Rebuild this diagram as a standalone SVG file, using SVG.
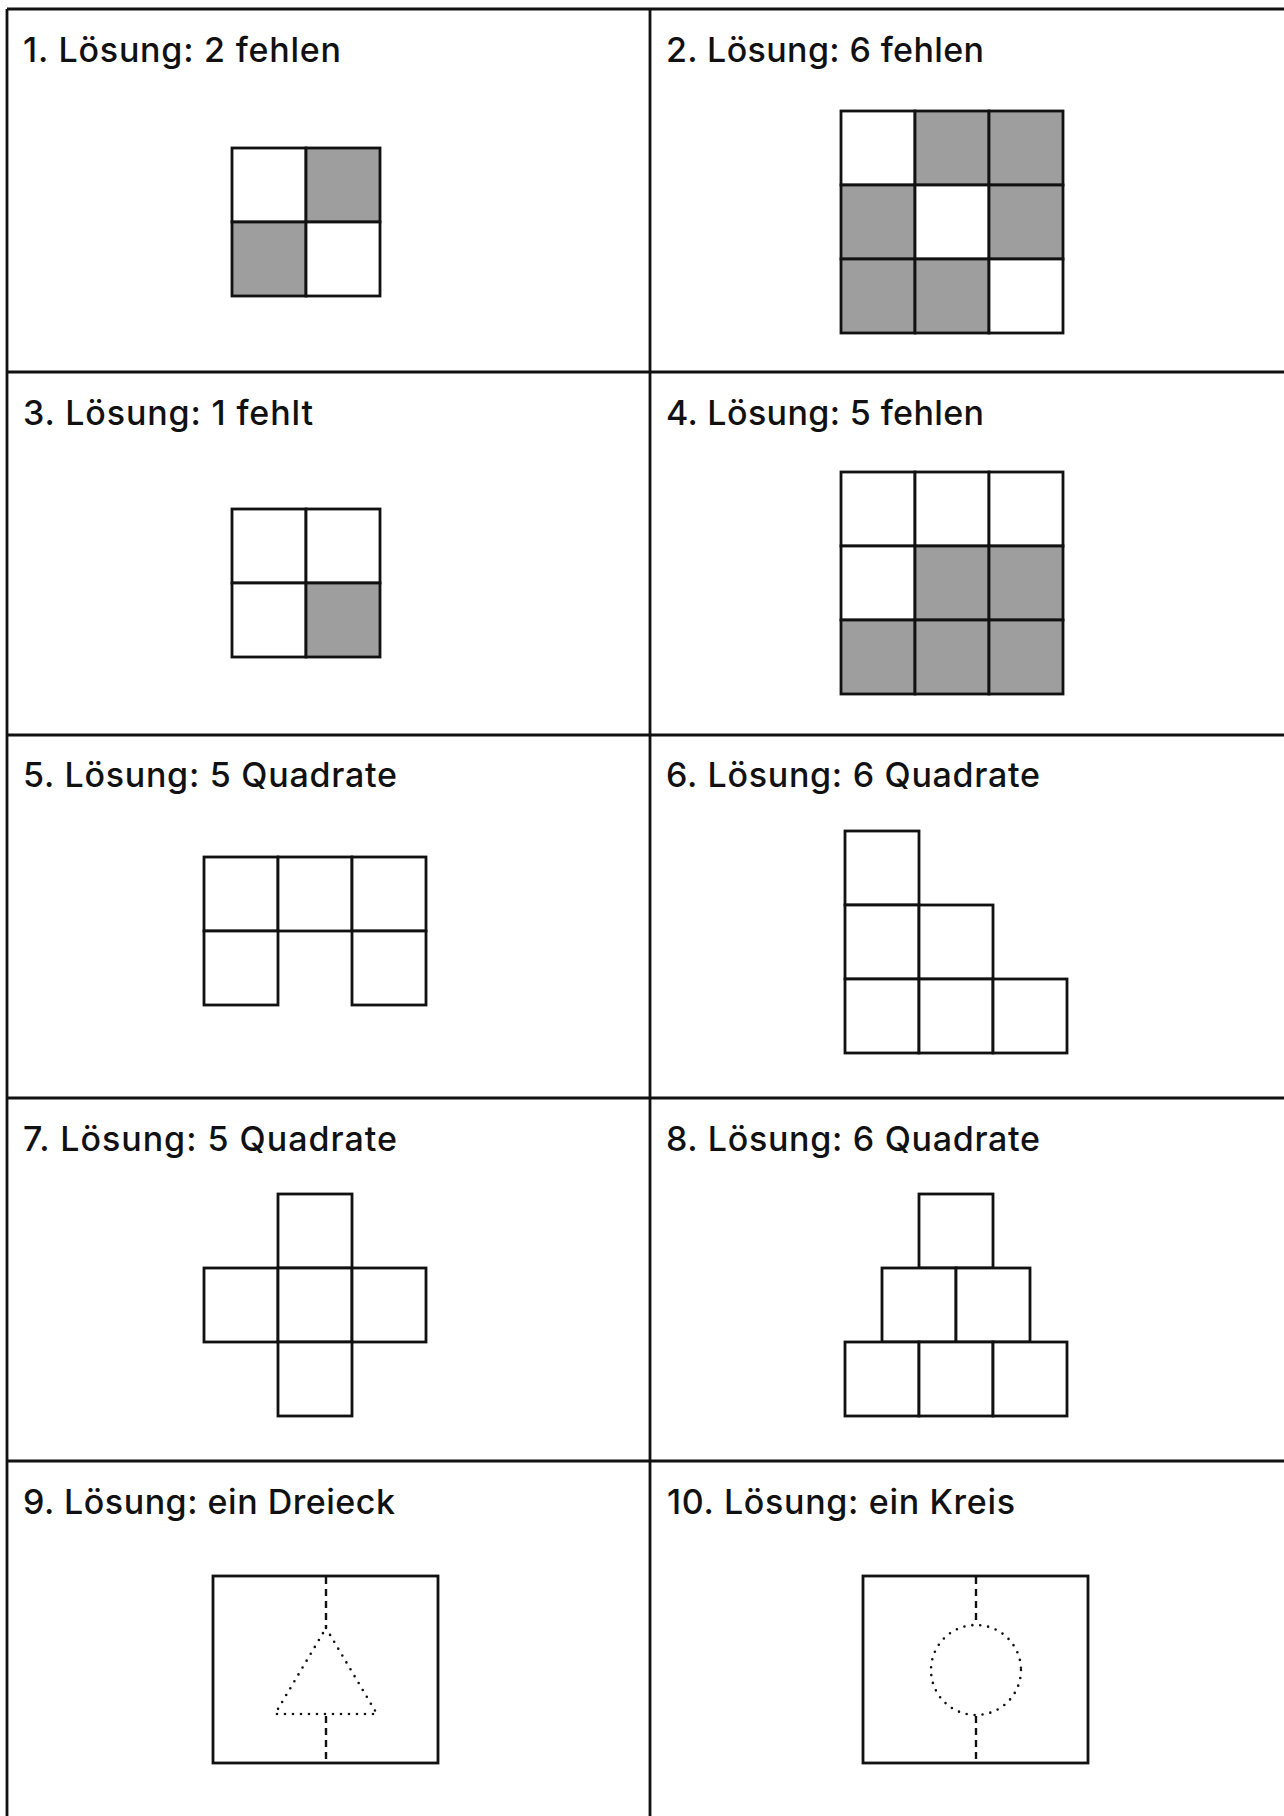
<svg xmlns="http://www.w3.org/2000/svg" width="1284" height="1816" viewBox="0 0 1284 1816">
<style>
  .bg { fill: #ffffff; }
  .rule { stroke: #111111; stroke-width: 2.8; fill: none; }
  .lbl { font-family: Inter, "Liberation Sans", sans-serif; font-weight: 500; font-size: 34px; fill: #111111; }
  .w { fill: #ffffff; stroke: #111111; stroke-width: 2.8; }
  .g { fill: #9e9e9e; stroke: #111111; stroke-width: 2.8; }
  .frame { fill: #ffffff; stroke: #111111; stroke-width: 2.8; }
  .dash { stroke: #111111; stroke-width: 2.4; fill: none; stroke-dasharray: 7 5; }
  .dot { stroke: #111111; stroke-width: 2.6; fill: none; stroke-dasharray: 0 8; stroke-linecap: round; }
</style>
<rect class="bg" x="0" y="0" width="1284" height="1816"/>
<g id="grid">
  <line class="rule" x1="7" y1="9" x2="1290" y2="9"/>
  <line class="rule" x1="7" y1="372" x2="1290" y2="372"/>
  <line class="rule" x1="7" y1="735" x2="1290" y2="735"/>
  <line class="rule" x1="7" y1="1098" x2="1290" y2="1098"/>
  <line class="rule" x1="7" y1="1461" x2="1290" y2="1461"/>
  <line class="rule" x1="7" y1="9" x2="7" y2="1820"/>
  <line class="rule" x1="650" y1="9" x2="650" y2="1820"/>
</g>
<g id="connectors"/>
<g id="panel1">
  <text class="lbl" x="23" y="62" textLength="318">1. Lösung: 2 fehlen</text>
  <rect class="w" x="232" y="148" width="74" height="74"/>
  <rect class="g" x="306" y="148" width="74" height="74"/>
  <rect class="g" x="232" y="222" width="74" height="74"/>
  <rect class="w" x="306" y="222" width="74" height="74"/>
</g>
<g id="panel2">
  <text class="lbl" x="666" y="62" textLength="318">2. Lösung: 6 fehlen</text>
  <rect class="w" x="841" y="111" width="74" height="74"/>
  <rect class="g" x="915" y="111" width="74" height="74"/>
  <rect class="g" x="989" y="111" width="74" height="74"/>
  <rect class="g" x="841" y="185" width="74" height="74"/>
  <rect class="w" x="915" y="185" width="74" height="74"/>
  <rect class="g" x="989" y="185" width="74" height="74"/>
  <rect class="g" x="841" y="259" width="74" height="74"/>
  <rect class="g" x="915" y="259" width="74" height="74"/>
  <rect class="w" x="989" y="259" width="74" height="74"/>
</g>
<g id="panel3">
  <text class="lbl" x="23" y="425" textLength="290">3. Lösung: 1 fehlt</text>
  <rect class="w" x="232" y="509" width="74" height="74"/>
  <rect class="w" x="306" y="509" width="74" height="74"/>
  <rect class="w" x="232" y="583" width="74" height="74"/>
  <rect class="g" x="306" y="583" width="74" height="74"/>
</g>
<g id="panel4">
  <text class="lbl" x="666" y="425" textLength="318">4. Lösung: 5 fehlen</text>
  <rect class="w" x="841" y="472" width="74" height="74"/>
  <rect class="w" x="915" y="472" width="74" height="74"/>
  <rect class="w" x="989" y="472" width="74" height="74"/>
  <rect class="w" x="841" y="546" width="74" height="74"/>
  <rect class="g" x="915" y="546" width="74" height="74"/>
  <rect class="g" x="989" y="546" width="74" height="74"/>
  <rect class="g" x="841" y="620" width="74" height="74"/>
  <rect class="g" x="915" y="620" width="74" height="74"/>
  <rect class="g" x="989" y="620" width="74" height="74"/>
</g>
<g id="panel5">
  <text class="lbl" x="23" y="787" textLength="374">5. Lösung: 5 Quadrate</text>
  <rect class="w" x="204" y="857" width="74" height="74"/>
  <rect class="w" x="278" y="857" width="74" height="74"/>
  <rect class="w" x="352" y="857" width="74" height="74"/>
  <rect class="w" x="204" y="931" width="74" height="74"/>
  <rect class="w" x="352" y="931" width="74" height="74"/>
</g>
<g id="panel6">
  <text class="lbl" x="666" y="787" textLength="374">6. Lösung: 6 Quadrate</text>
  <rect class="w" x="845" y="831" width="74" height="74"/>
  <rect class="w" x="845" y="905" width="74" height="74"/>
  <rect class="w" x="919" y="905" width="74" height="74"/>
  <rect class="w" x="845" y="979" width="74" height="74"/>
  <rect class="w" x="919" y="979" width="74" height="74"/>
  <rect class="w" x="993" y="979" width="74" height="74"/>
</g>
<g id="panel7">
  <text class="lbl" x="23" y="1151" textLength="374">7. Lösung: 5 Quadrate</text>
  <rect class="w" x="278" y="1194" width="74" height="74"/>
  <rect class="w" x="204" y="1268" width="74" height="74"/>
  <rect class="w" x="278" y="1268" width="74" height="74"/>
  <rect class="w" x="352" y="1268" width="74" height="74"/>
  <rect class="w" x="278" y="1342" width="74" height="74"/>
</g>
<g id="panel8">
  <text class="lbl" x="666" y="1151" textLength="374">8. Lösung: 6 Quadrate</text>
  <rect class="w" x="919" y="1194" width="74" height="74"/>
  <rect class="w" x="882" y="1268" width="74" height="74"/>
  <rect class="w" x="956" y="1268" width="74" height="74"/>
  <rect class="w" x="845" y="1342" width="74" height="74"/>
  <rect class="w" x="919" y="1342" width="74" height="74"/>
  <rect class="w" x="993" y="1342" width="74" height="74"/>
</g>
<g id="panel9">
  <text class="lbl" x="23" y="1514" textLength="372">9. Lösung: ein Dreieck</text>
  <rect class="frame" x="213" y="1576" width="225" height="187"/>
  <line class="dash" x1="326" y1="1577" x2="326" y2="1628"/>
  <line class="dash" x1="326" y1="1716" x2="326" y2="1762"/>
  <path class="dot" d="M326 1628 L377 1714 L275 1714 Z"/>
</g>
<g id="panel10">
  <text class="lbl" x="667" y="1514" textLength="348">10. Lösung: ein Kreis</text>
  <rect class="frame" x="863" y="1576" width="225" height="187"/>
  <line class="dash" x1="976" y1="1577" x2="976" y2="1625"/>
  <line class="dash" x1="976" y1="1716" x2="976" y2="1762"/>
  <circle class="dot" cx="976" cy="1670" r="45"/>
</g>
</svg>
